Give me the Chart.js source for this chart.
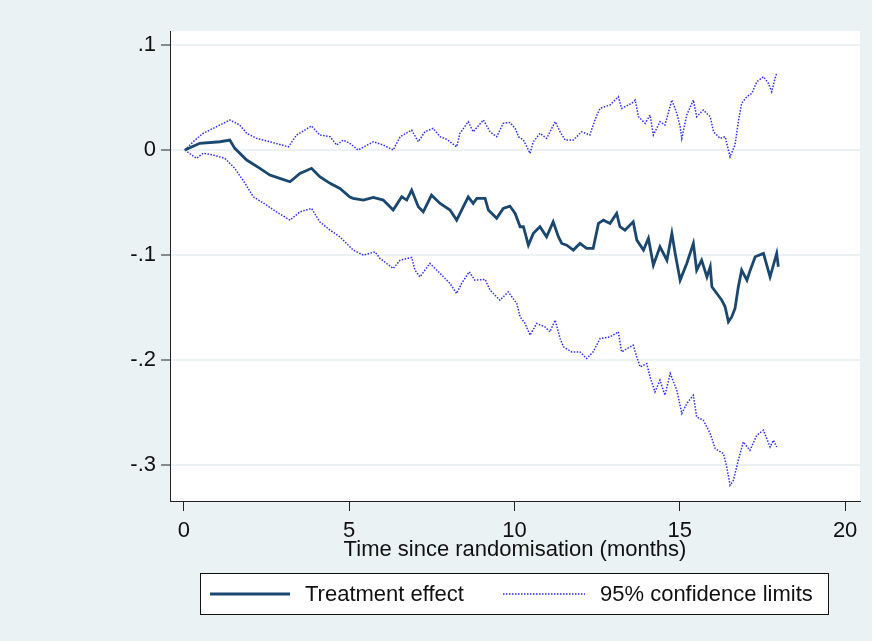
<!DOCTYPE html>
<html>
<head>
<meta charset="utf-8">
<script src="https://cdn.jsdelivr.net/npm/chart.js@4.4.1/dist/chart.umd.min.js"></script>
<style>
  body { margin: 0; background: #eaf2f3; }
  canvas { display: block; }
</style>
</head>
<body>
<canvas id="chart" width="872" height="641"></canvas>
<script>
// values (months, treatment effect)
var effectTime = [0.03, 0.48, 1.09, 1.39, 1.54, 1.90, 2.30, 2.60, 2.90, 3.21, 3.51, 3.86, 4.11, 4.42, 4.72, 5.02, 5.12, 5.43, 5.73, 6.03, 6.33, 6.59, 6.74, 6.89, 7.09, 7.24, 7.49, 7.75, 8.05, 8.25, 8.60, 8.75, 8.86, 9.11, 9.21, 9.46, 9.66, 9.86, 10.02, 10.17, 10.27, 10.42, 10.57, 10.77, 10.97, 11.17, 11.33, 11.43, 11.58, 11.78, 11.98, 12.18, 12.38, 12.54, 12.69, 12.89, 13.09, 13.19, 13.34, 13.59, 13.70, 13.90, 14.05, 14.20, 14.40, 14.61, 14.76, 14.86, 15.01, 15.21, 15.41, 15.51, 15.66, 15.82, 15.92, 15.97, 16.12, 16.27, 16.37, 16.47, 16.57, 16.67, 16.77, 16.87, 17.03, 17.13, 17.28, 17.53, 17.73, 17.93, 17.98];
var effectValue = [0, 0.0064, 0.0079, 0.0095, 0.0016, -0.0095, -0.0174, -0.0238, -0.0270, -0.0302, -0.0222, -0.0174, -0.0254, -0.0317, -0.0365, -0.0448, -0.0460, -0.0476, -0.0450, -0.0476, -0.0571, -0.0445, -0.0476, -0.0381, -0.0540, -0.0588, -0.0429, -0.0508, -0.0571, -0.0667, -0.0445, -0.0508, -0.0460, -0.0460, -0.0571, -0.0650, -0.0555, -0.0533, -0.0603, -0.0730, -0.0730, -0.0905, -0.0793, -0.0730, -0.0826, -0.0683, -0.0826, -0.0889, -0.0905, -0.0952, -0.0889, -0.0936, -0.0936, -0.0698, -0.0667, -0.0698, -0.0603, -0.0730, -0.0762, -0.0683, -0.0857, -0.0952, -0.0841, -0.1095, -0.0921, -0.1048, -0.0793, -0.0984, -0.1238, -0.1079, -0.0889, -0.1143, -0.1048, -0.1207, -0.1111, -0.1302, -0.1365, -0.1429, -0.1492, -0.1635, -0.1588, -0.1508, -0.1302, -0.1143, -0.1238, -0.1143, -0.1016, -0.0984, -0.1207, -0.0984, -0.1111];

var upperTime = [0.03, 0.28, 0.58, 0.89, 1.39, 1.69, 1.90, 2.20, 2.60, 3.16, 3.41, 3.86, 4.11, 4.42, 4.62, 4.82, 5.02, 5.27, 5.73, 6.03, 6.33, 6.54, 6.89, 7.09, 7.29, 7.54, 7.75, 7.95, 8.25, 8.35, 8.60, 8.75, 9.06, 9.26, 9.46, 9.66, 9.86, 10.02, 10.12, 10.27, 10.47, 10.57, 10.77, 10.97, 11.23, 11.38, 11.53, 11.78, 12.03, 12.28, 12.38, 12.49, 12.59, 12.89, 13.14, 13.24, 13.55, 13.65, 13.75, 13.95, 14.10, 14.20, 14.40, 14.55, 14.76, 14.91, 15.01, 15.06, 15.21, 15.41, 15.51, 15.71, 15.92, 16.02, 16.22, 16.37, 16.47, 16.52, 16.67, 16.77, 16.87, 17.03, 17.18, 17.33, 17.53, 17.68, 17.78, 17.88, 17.93];
var upperValue = [0, 0.0079, 0.0159, 0.0207, 0.0286, 0.0238, 0.0159, 0.0111, 0.0079, 0.0031, 0.0143, 0.0229, 0.0143, 0.0127, 0.0048, 0.0095, 0.0064, 0, 0.0079, 0.0048, 0, 0.0127, 0.0190, 0.0079, 0.0174, 0.0207, 0.0127, 0.0102, 0.0031, 0.0159, 0.0270, 0.0174, 0.0286, 0.0174, 0.0127, 0.0254, 0.0262, 0.0207, 0.0127, 0.0095, -0.0031, 0.0079, 0.0159, 0.0111, 0.0270, 0.0174, 0.0095, 0.0095, 0.0174, 0.0143, 0.0238, 0.0333, 0.0397, 0.0429, 0.0508, 0.0397, 0.0445, 0.0476, 0.0317, 0.0254, 0.0333, 0.0143, 0.0270, 0.0238, 0.0476, 0.0350, 0.0222, 0.0111, 0.0333, 0.0476, 0.0317, 0.0381, 0.0317, 0.0174, 0.0111, 0.0127, 0, -0.0064, 0.0048, 0.0270, 0.0445, 0.0508, 0.0540, 0.0650, 0.0698, 0.0635, 0.0555, 0.0683, 0.0730];

var lowerTime = [0.03, 0.38, 0.58, 0.89, 1.24, 1.54, 1.85, 2.10, 2.50, 2.80, 3.21, 3.51, 3.86, 4.11, 4.42, 4.72, 5.12, 5.43, 5.78, 5.93, 6.33, 6.54, 6.89, 6.99, 7.14, 7.44, 7.75, 8.05, 8.25, 8.40, 8.63, 8.80, 9.11, 9.26, 9.56, 9.81, 10.07, 10.17, 10.32, 10.47, 10.67, 10.92, 11.07, 11.23, 11.38, 11.48, 11.73, 11.98, 12.18, 12.38, 12.59, 12.89, 13.14, 13.24, 13.59, 13.70, 13.80, 14.00, 14.10, 14.25, 14.40, 14.55, 14.71, 14.91, 15.06, 15.21, 15.41, 15.51, 15.71, 15.92, 16.07, 16.32, 16.42, 16.52, 16.62, 16.77, 16.92, 17.12, 17.33, 17.53, 17.73, 17.83, 17.93];
var lowerValue = [0, -0.0079, -0.0031, -0.0048, -0.0079, -0.0174, -0.0317, -0.0445, -0.0524, -0.0588, -0.0667, -0.0588, -0.0555, -0.0683, -0.0762, -0.0826, -0.0952, -0.1000, -0.0969, -0.1031, -0.1127, -0.1048, -0.1022, -0.1143, -0.1207, -0.1079, -0.1174, -0.1270, -0.1365, -0.1270, -0.1159, -0.1238, -0.1231, -0.1333, -0.1429, -0.1350, -0.1460, -0.1588, -0.1650, -0.1762, -0.1650, -0.1683, -0.1730, -0.1619, -0.1793, -0.1873, -0.1921, -0.1921, -0.1984, -0.1921, -0.1793, -0.1778, -0.1730, -0.1921, -0.1857, -0.1969, -0.2064, -0.2032, -0.2159, -0.2302, -0.2190, -0.2333, -0.2127, -0.2286, -0.2508, -0.2412, -0.2333, -0.2540, -0.2571, -0.2698, -0.2841, -0.2889, -0.3016, -0.3190, -0.3143, -0.2952, -0.2778, -0.2857, -0.2714, -0.2667, -0.2826, -0.2762, -0.2826];

var xTicks = [0, 5, 10, 15, 20];
var yTicks = [0.1, 0, -0.1, -0.2, -0.3];
var yTickLabels = ['.1', '0', '-.1', '-.2', '-.3'];
var legendLabels = ['Treatment effect', '95% confidence limits'];

var navy = '#1a476f';
var ciBlue = 'rgba(20,20,255,0.9)';
var gridColor = '#eaf2f3';
var axisColor = '#222222';
var fontFamily = '"Liberation Sans", Arial, sans-serif';

function toPoints(xs, ys) {
	var pts = [];
	for (var i = 0; i < xs.length; i++) pts.push({x: xs[i], y: ys[i]});
	return pts;
}

// paints the outer region and the white plot region, then the legend box
var backdrop = {
	id: 'backdrop',
	beforeDraw: function (chart) {
		var ctx = chart.ctx, a = chart.chartArea;
		ctx.save();
		ctx.fillStyle = '#eaf2f3';
		ctx.fillRect(0, 0, chart.width, chart.height);
		ctx.fillStyle = '#ffffff';
		ctx.fillRect(a.left, a.top, a.right - a.left, a.bottom - a.top);
		ctx.restore();
	},
	afterDraw: function (chart) {
		var ctx = chart.ctx;
		ctx.save();
		ctx.fillStyle = '#ffffff';
		ctx.fillRect(200, 573, 629, 41);
		ctx.strokeStyle = '#111111';
		ctx.lineWidth = 1;
		ctx.strokeRect(200.5, 573.5, 628, 41);

		ctx.strokeStyle = navy;
		ctx.lineWidth = 2.8;
		ctx.beginPath();
		ctx.moveTo(210, 594);
		ctx.lineTo(290, 594);
		ctx.stroke();

		ctx.strokeStyle = ciBlue;
		ctx.lineWidth = 1.5;
		ctx.setLineDash([1.5, 1.5]);
		ctx.beginPath();
		ctx.moveTo(503, 594);
		ctx.lineTo(585, 594);
		ctx.stroke();
		ctx.setLineDash([]);

		ctx.fillStyle = '#111111';
		ctx.font = '22px ' + fontFamily;
		ctx.textBaseline = 'middle';
		ctx.fillText(legendLabels[0], 305, 595);
		ctx.fillText(legendLabels[1], 600, 595);
		ctx.restore();
	}
};

var ctx = document.getElementById('chart');
var myChart = new Chart(ctx, {
	type: 'line',
	data: {
		datasets: [{
			label: legendLabels[0],
			data: toPoints(effectTime, effectValue),
			borderColor: navy,
			borderWidth: 2.8,
			pointRadius: 0,
			tension: 0,
			order: 0
		}, {
			label: legendLabels[1],
			data: toPoints(upperTime, upperValue),
			borderColor: ciBlue,
			borderWidth: 1.5,
			borderDash: [1.5, 1.5],
			pointRadius: 0,
			tension: 0,
			order: 1
		}, {
			label: legendLabels[1],
			data: toPoints(lowerTime, lowerValue),
			borderColor: ciBlue,
			borderWidth: 1.5,
			borderDash: [1.5, 1.5],
			pointRadius: 0,
			tension: 0,
			order: 1
		}]
	},
	options: {
		responsive: false,
		animation: false,
		layout: { padding: { top: 31, right: 12, left: 0, bottom: 78 } },
		plugins: {
			legend: { display: false },
			tooltip: { enabled: false }
		},
		scales: {
			x: {
				type: 'linear',
				min: -0.42,
				max: 20.45,
				afterBuildTicks: function (scale) {
					scale.ticks = xTicks.map(function (v) { return {value: v}; });
				},
				afterFit: function (scale) { scale.height = 62; },
				grid: {
					drawOnChartArea: false,
					tickLength: 10,
					tickColor: axisColor,
					tickWidth: 1
				},
				border: { color: axisColor, width: 1 },
				ticks: {
					color: '#111111',
					padding: 7,
					maxRotation: 0,
					font: { family: fontFamily, size: 22 }
				},
				title: {
					display: true,
					text: 'Time since randomisation (months)',
					color: '#111111',
					padding: 0,
					font: { family: fontFamily, size: 22 }
				}
			},
			y: {
				type: 'linear',
				min: -0.334,
				max: 0.1133,
				afterBuildTicks: function (scale) {
					scale.ticks = yTicks.map(function (v) { return {value: v}; });
				},
				afterFit: function (scale) { scale.width = 170; },
				grid: {
					color: gridColor,
					lineWidth: 2,
					tickLength: 9,
					tickColor: axisColor,
					tickWidth: 1
				},
				border: { color: axisColor, width: 1 },
				ticks: {
					color: '#111111',
					padding: 5,
					font: { family: fontFamily, size: 22 },
					callback: function (value) {
						var i = yTicks.indexOf(value);
						return i >= 0 ? yTickLabels[i] : '';
					}
				}
			}
		}
	},
	plugins: [backdrop]
});
</script>
</body>
</html>
